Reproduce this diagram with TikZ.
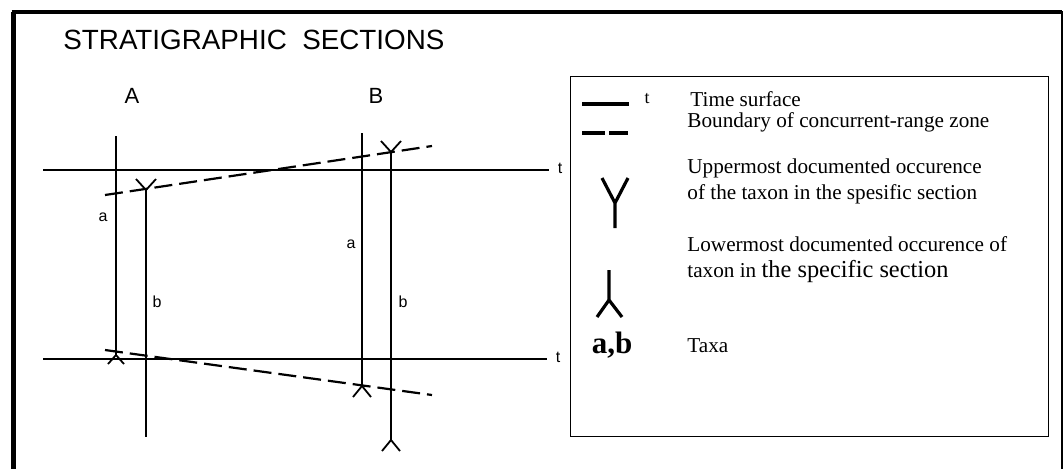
\documentclass[tikz,border=0pt]{standalone}
\usepackage{fontspec}
\setmainfont{Liberation Serif}
\newfontfamily\helv{Liberation Sans}
\usetikzlibrary{positioning}

\begin{document}
\begin{tikzpicture}[x=0.5pt,y=-0.5pt,
  sect/.style={line width=0.9pt},
  bound/.style={line width=1.1pt,dash pattern=on 9pt off 3.5pt},
  sml/.style={font=\helv\fontsize{8}{9}\selectfont,inner sep=0pt},
  lgd/.style={font=\fontsize{10.6}{13}\selectfont,inner sep=0pt,anchor=west,align=left},
  sym/.style={line width=1.6pt}]
\useasboundingbox (0,0) rectangle (1064,468);
\draw[line width=2.5pt] (13,470) -- (13,12);
\draw[line width=1.8pt] (11.5,12) -- (1062,12);
\draw[line width=1.2pt] (1062,11) -- (1062,470);
\node[font=\helv\fontsize{13.9}{16}\selectfont,inner sep=0pt,anchor=west] (title) at (63,40) {STRATIGRAPHIC\ \ SECTIONS};
\node[font=\helv\fontsize{11}{12}\selectfont,inner sep=0pt] (lblA) at (132,96) {A};
\node[font=\helv\fontsize{11}{12}\selectfont,inner sep=0pt] (lblB) at (376,96) {B};
\node[sml] (tUp) at (560,168) {t};
\node[sml] (tLow) at (558,357) {t};
\coordinate (upL) at (43,170);
\coordinate (lowL) at (43,359);
\draw[sect] (upL) -- ([xshift=-4pt]tUp.west |- upL);
\draw[sect] (lowL) -- ([xshift=-4pt]tLow.west |- lowL);
\coordinate (aAtop) at (116,136);
\coordinate (aAbot) at (116,355);
\coordinate (bAtop) at (146,190);
\coordinate (bAbot) at (146,437);
\coordinate (aBtop) at (362,133);
\coordinate (aBbot) at (362,386);
\coordinate (bBtop) at (391,152);
\coordinate (bBbot) at (391,440);
\draw[sect] (aAtop) -- (aAbot);
\draw[sect] (bAtop) -- (bAbot);
\draw[sect] (aBtop) -- (aBbot);
\draw[sect] (bBtop) -- (bBbot);
\draw[sect] (bAtop) ++(-10,-11) -- (bAtop) -- ++(10,-11);
\draw[sect] (bBtop) ++(-10,-11) -- (bBtop) -- ++(10,-11);
\draw[sect] (aAbot) ++(-8,9) -- (aAbot) -- ++(8,9);
\draw[sect] (aBbot) ++(-9,11) -- (aBbot) -- ++(9,11);
\draw[sect] (bBbot) ++(-9,11) -- (bBbot) -- ++(9,11);
\coordinate (upB1) at (105,195);
\coordinate (upB2) at (432,146);
\coordinate (lowB1) at (105,350);
\coordinate (lowB2) at (432,395);
\draw[bound] (upB1) -- (upB2);
\draw[bound] (lowB1) -- (lowB2);
\node[sml] (aA) at (103,217) {a};
\node[sml] (bA) at (157,302) {b};
\node[sml] (aB) at (351,244) {a};
\node[sml] (bB) at (403,302) {b};
\draw[line width=0.5pt] (570,76) rectangle (1048,436);
\draw[sym,line width=2pt] (582,104) -- (629,104);
\draw[sym,line width=2pt] (582,133) -- (605,133) (609,133) -- (628,133);
\node[inner sep=0pt,font=\fontsize{9}{10}\selectfont] (tLeg) at (647,99) {t};
\coordinate (yLeg) at (615,203);
\draw[sym] (602,178) -- (yLeg) -- (628,178) (yLeg) -- (615,228);
\coordinate (iyLeg) at (609,300);
\draw[sym] (597,317) -- (iyLeg) -- (622,317) (iyLeg) -- (609,270);
\node[inner sep=0pt,font=\bfseries\fontsize{15.5}{17}\selectfont] (taxLeg) at (612,345) {a,b};
\node[lgd] (timeTxt) at (690,99) {Time surface};
\node[lgd] (bndTxt) at (687,122) {Boundary of concurrent-range zone};
\node[lgd] (upTxt) at (687,181) {Uppermost documented occurence\\of the taxon in the spesific section};
\node[lgd] (lowTxt) at (687,260) {Lowermost documented occurence of\\taxon in {\fontsize{12.2}{13}\selectfont the specific section}};
\node[lgd] (taxTxt) at (687,346) {Taxa};
\end{tikzpicture}
\end{document}
